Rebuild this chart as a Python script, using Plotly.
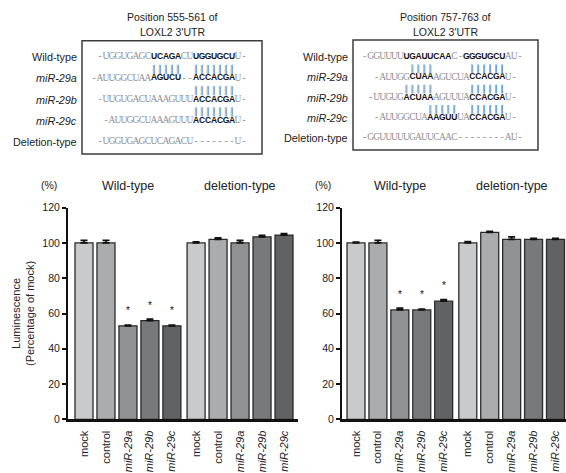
import plotly.graph_objects as go

W, H = 566, 473

# ---------------- data ----------------
categories = ["mock", "control", "miR-29a", "miR-29b", "miR-29c"]
groups = ["Wild-type", "deletion-type"]

site1_wt = [100, 100, 53, 56, 53]
site1_wt_err = [1.5, 1.5, 0.4, 0.8, 0.4]
site1_del = [100, 102, 100, 103.5, 104.5]
site1_del_err = [0.6, 0.9, 1.4, 0.8, 0.8]

site2_wt = [100, 100, 62, 62, 67]
site2_wt_err = [0.5, 1.5, 1.0, 0.5, 0.8]
site2_del = [100, 106, 102, 102, 102]
site2_del_err = [0.8, 0.6, 1.5, 0.6, 0.6]

significant_wt = [False, False, True, True, True]

yticks = [0, 20, 40, 60, 80, 100, 120]

row_labels = ["Wild-type", "miR-29a", "miR-29b", "miR-29c", "Deletion-type"]

site1_title = ["Position 555-561 of", "LOXL2 3'UTR"]
site1_seqs = ["-UGGUGAGCUCAGACUUGGUGCUU-",
              "-AUUGGCUAAAGUCU--ACCACGAU-",
              "-UUGUGACUAAAGUUUACCACGAU-",
              "-AUUGGCUAAAGUUUACCACGAU-",
              "-UGGUGAGCUCAGACU-------U-"]
site1_offsets = [0, -1, 0, 1, 0]
site1_bold = [[(9, 13), (16, 22)], [(10, 14), (17, 23)], [(16, 22)], [(15, 21)], []]
site1_pairs = [[(9, 13), (16, 22)], [(16, 22)], [(16, 22)]]

site2_title = ["Position 757-763 of", "LOXL2 3'UTR"]
site2_seqs = ["-GGUUUUUGAUUCAAC-GGGUGCUAU-",
              "-AUUGGCUAAAGUCUACCACGAU-",
              "-UUGUGACUAAAGUUUACCACGAU-",
              "-AUUGGCUAAAGUUUACCACGAU-",
              "-GGUUUUUGAUUCAAC--------AU-"]
site2_offsets = [0, 2, 1, 2, 0]
site2_bold = [[(7, 14), (17, 23)], [(6, 9), (16, 21)], [(6, 10), (17, 22)], [(9, 13), (16, 21)], []]
site2_pairs = [[(8, 11), (18, 23)], [(7, 11), (18, 23)], [(11, 15), (18, 23)]]

bar_colors = ["#c9cacc", "#abacae", "#909193", "#78797b", "#616264"]

# ---------------- layout helpers ----------------
def px(x):
    return x / W

def py(y):
    return 1 - y / H

positions = [0, 1, 2, 3, 4, 5.1, 6.1, 7.1, 8.1, 9.1]
TXT = "#222222"
FONT = "Liberation Sans, Arial, sans-serif"

fig = go.Figure()

tick_text = [c if not c.startswith("miR") else "<i>%s</i>" % c for c in categories] * 2


def add_bars(xa, ya, wt, wt_err, dl, dl_err):
    vals = wt + dl
    errs = wt_err + dl_err
    fig.add_trace(go.Bar(
        x=positions, y=vals, width=0.82,
        marker=dict(color=bar_colors * 2, line=dict(color="#2a2a2a", width=1.3)),
        error_y=dict(type="data", array=errs, arrayminus=[0] * len(errs), symmetric=False,
                     color="#111111", thickness=1.8, width=3.5),
        xaxis=xa, yaxis=ya, showlegend=False, hoverinfo="skip"))
    for i, sig in enumerate(significant_wt):
        if sig:
            fig.add_annotation(x=positions[i], y=wt[i], xref=xa, yref=ya, text="*",
                               showarrow=False, yanchor="bottom", yshift=8,
                               font=dict(size=10, color="#111", family=FONT))
    for g, name in enumerate(groups):
        gp = positions[g * 5:(g + 1) * 5]
        fig.add_annotation(x=sum(gp) / len(gp), y=py(186), xref=xa, yref="paper",
                           text=name, showarrow=False, yanchor="middle",
                           font=dict(size=12.5, color=TXT, family=FONT))
    fig.add_annotation(x=0, y=py(185), xref=xa + " domain", yref="paper", text="(%)",
                       showarrow=False, xanchor="center", yanchor="middle", xshift=-19,
                       font=dict(size=10.5, color=TXT, family=FONT))


add_bars("x", "y", site1_wt, site1_wt_err, site1_del, site1_del_err)
add_bars("x2", "y2", site2_wt, site2_wt_err, site2_del, site2_del_err)

ydom = [py(419.3), py(207.7)]
common_x = dict(tickmode="array", tickvals=positions, ticktext=tick_text, tickangle=-90,
                showline=True, linecolor="#111", linewidth=3, ticks="", showgrid=False,
                zeroline=False, automargin=False, ticklabelstandoff=4,
                tickfont=dict(size=11, color=TXT, family=FONT))
common_y = dict(range=[0, 120], tickmode="array", tickvals=yticks, showline=True,
                linecolor="#111", linewidth=2, ticks="outside", ticklen=4, tickwidth=1.5,
                tickcolor="#111", showgrid=False, zeroline=False, domain=ydom, automargin=False,
                tickfont=dict(size=10.5, color=TXT, family=FONT))

fig.update_layout(
    xaxis=dict(domain=[px(68), px(298)], range=[(68 - 84) / 21.98, 9.1 + (298 - 284) / 21.98],
               anchor="y", **common_x),
    yaxis=dict(anchor="x", **common_y),
    xaxis2=dict(domain=[px(342), px(566)], range=[(342 - 356) / 21.92, 9.1 + (566 - 555.5) / 21.92],
                anchor="y2", **common_x),
    yaxis2=dict(anchor="x2", **common_y),
)

fig.add_annotation(x=px(23), y=py(314), xref="paper", yref="paper",
                   text="Luminescence<br>(Percentage of mock)", textangle=-90,
                   showarrow=False, xanchor="center", yanchor="middle",
                   font=dict(size=11, color=TXT, family=FONT))

# ---------------- sequence panels ----------------
def add_site(xa, ya, title, seqs, offsets, bolds, pairs):
    gx, gy, gt = [], [], []
    bx, by, bt = [], [], []
    for r, (s, off, bl) in enumerate(zip(seqs, offsets, bolds)):
        for i, ch in enumerate(s):
            isb = any(a <= i <= b for a, b in bl)
            if isb:
                bx.append(i + off); by.append(r); bt.append(ch)
            else:
                gx.append(i + off); gy.append(r); gt.append(ch)
    fig.add_trace(go.Scatter(x=gx, y=gy, text=gt, mode="text", xaxis=xa, yaxis=ya,
                             textfont=dict(size=9.5, color="#8e8e8e", family="Liberation Serif, serif"),
                             showlegend=False, hoverinfo="skip"))
    fig.add_trace(go.Scatter(x=bx, y=by, text=bt, mode="text", xaxis=xa, yaxis=ya,
                             textfont=dict(size=8.5, color="#111111", family=FONT, weight="bold"),
                             showlegend=False, hoverinfo="skip"))
    lx_b, ly_b, lx_o, ly_o = [], [], [], []
    for gap, segs in enumerate(pairs):
        for a, b in segs:
            for k in range(a, b + 1):
                lx_b += [k + 0.06, k + 0.06, None]
                ly_b += [gap + 0.37, gap + 0.8, None]
                lx_o += [k - 0.12, k - 0.12, None]
                ly_o += [gap + 0.37, gap + 0.8, None]
    fig.add_trace(go.Scatter(x=lx_o, y=ly_o, mode="lines", xaxis=xa, yaxis=ya,
                             line=dict(color="#e8a35a", width=1), showlegend=False, hoverinfo="skip"))
    fig.add_trace(go.Scatter(x=lx_b, y=ly_b, mode="lines", xaxis=xa, yaxis=ya,
                             line=dict(color="#5e9fd8", width=1), showlegend=False, hoverinfo="skip"))
    fig.add_shape(type="rect", xref=xa + " domain", yref=ya + " domain", x0=0, x1=1, y0=0, y1=1,
                  line=dict(color="#3c3c3c", width=1.5))
    for line_txt, ypix in zip(title, [17, 32]):
        fig.add_annotation(x=0.5, y=py(ypix), xref=xa + " domain", yref="paper", text=line_txt,
                           showarrow=False, xanchor="center", yanchor="middle",
                           font=dict(size=10.5, color=TXT, family=FONT))
    for r, lab in enumerate(row_labels):
        t = "<i>%s</i>" % lab if lab.startswith("miR") else lab
        fig.add_annotation(x=0, y=r, xref=xa + " domain", yref=ya, text=t, showarrow=False,
                           xanchor="right", yanchor="middle", xshift=-3,
                           font=dict(size=10.8, color=TXT, family=FONT))


add_site("x3", "y3", site1_title, site1_seqs, site1_offsets, site1_bold, site1_pairs)
add_site("x4", "y4", site2_title, site2_seqs, site2_offsets, site2_bold, site2_pairs)

fig.update_layout(
    xaxis3=dict(domain=[px(82), px(262)], range=[-3, 27], visible=False, anchor="y3", automargin=False),
    yaxis3=dict(domain=[py(154), py(40.7)], range=[4.565, -0.767], visible=False, anchor="x3", automargin=False),
    xaxis4=dict(domain=[px(353), px(538)], range=[-1.95, -1.95 + 185 / 5.98], visible=False, anchor="y4", automargin=False),
    yaxis4=dict(domain=[py(150), py(40)], range=[4.59, -0.84], visible=False, anchor="x4", automargin=False),
    width=W, height=H, autosize=False,
    margin=dict(l=0, r=0, t=0, b=0, pad=0),
    paper_bgcolor="white", plot_bgcolor="white",
    font=dict(family=FONT, color=TXT),
)

fig.write_html("out.html", config={"displayModeBar": False},
               post_script="document.body.style.margin='0';document.body.style.overflow='hidden';")
